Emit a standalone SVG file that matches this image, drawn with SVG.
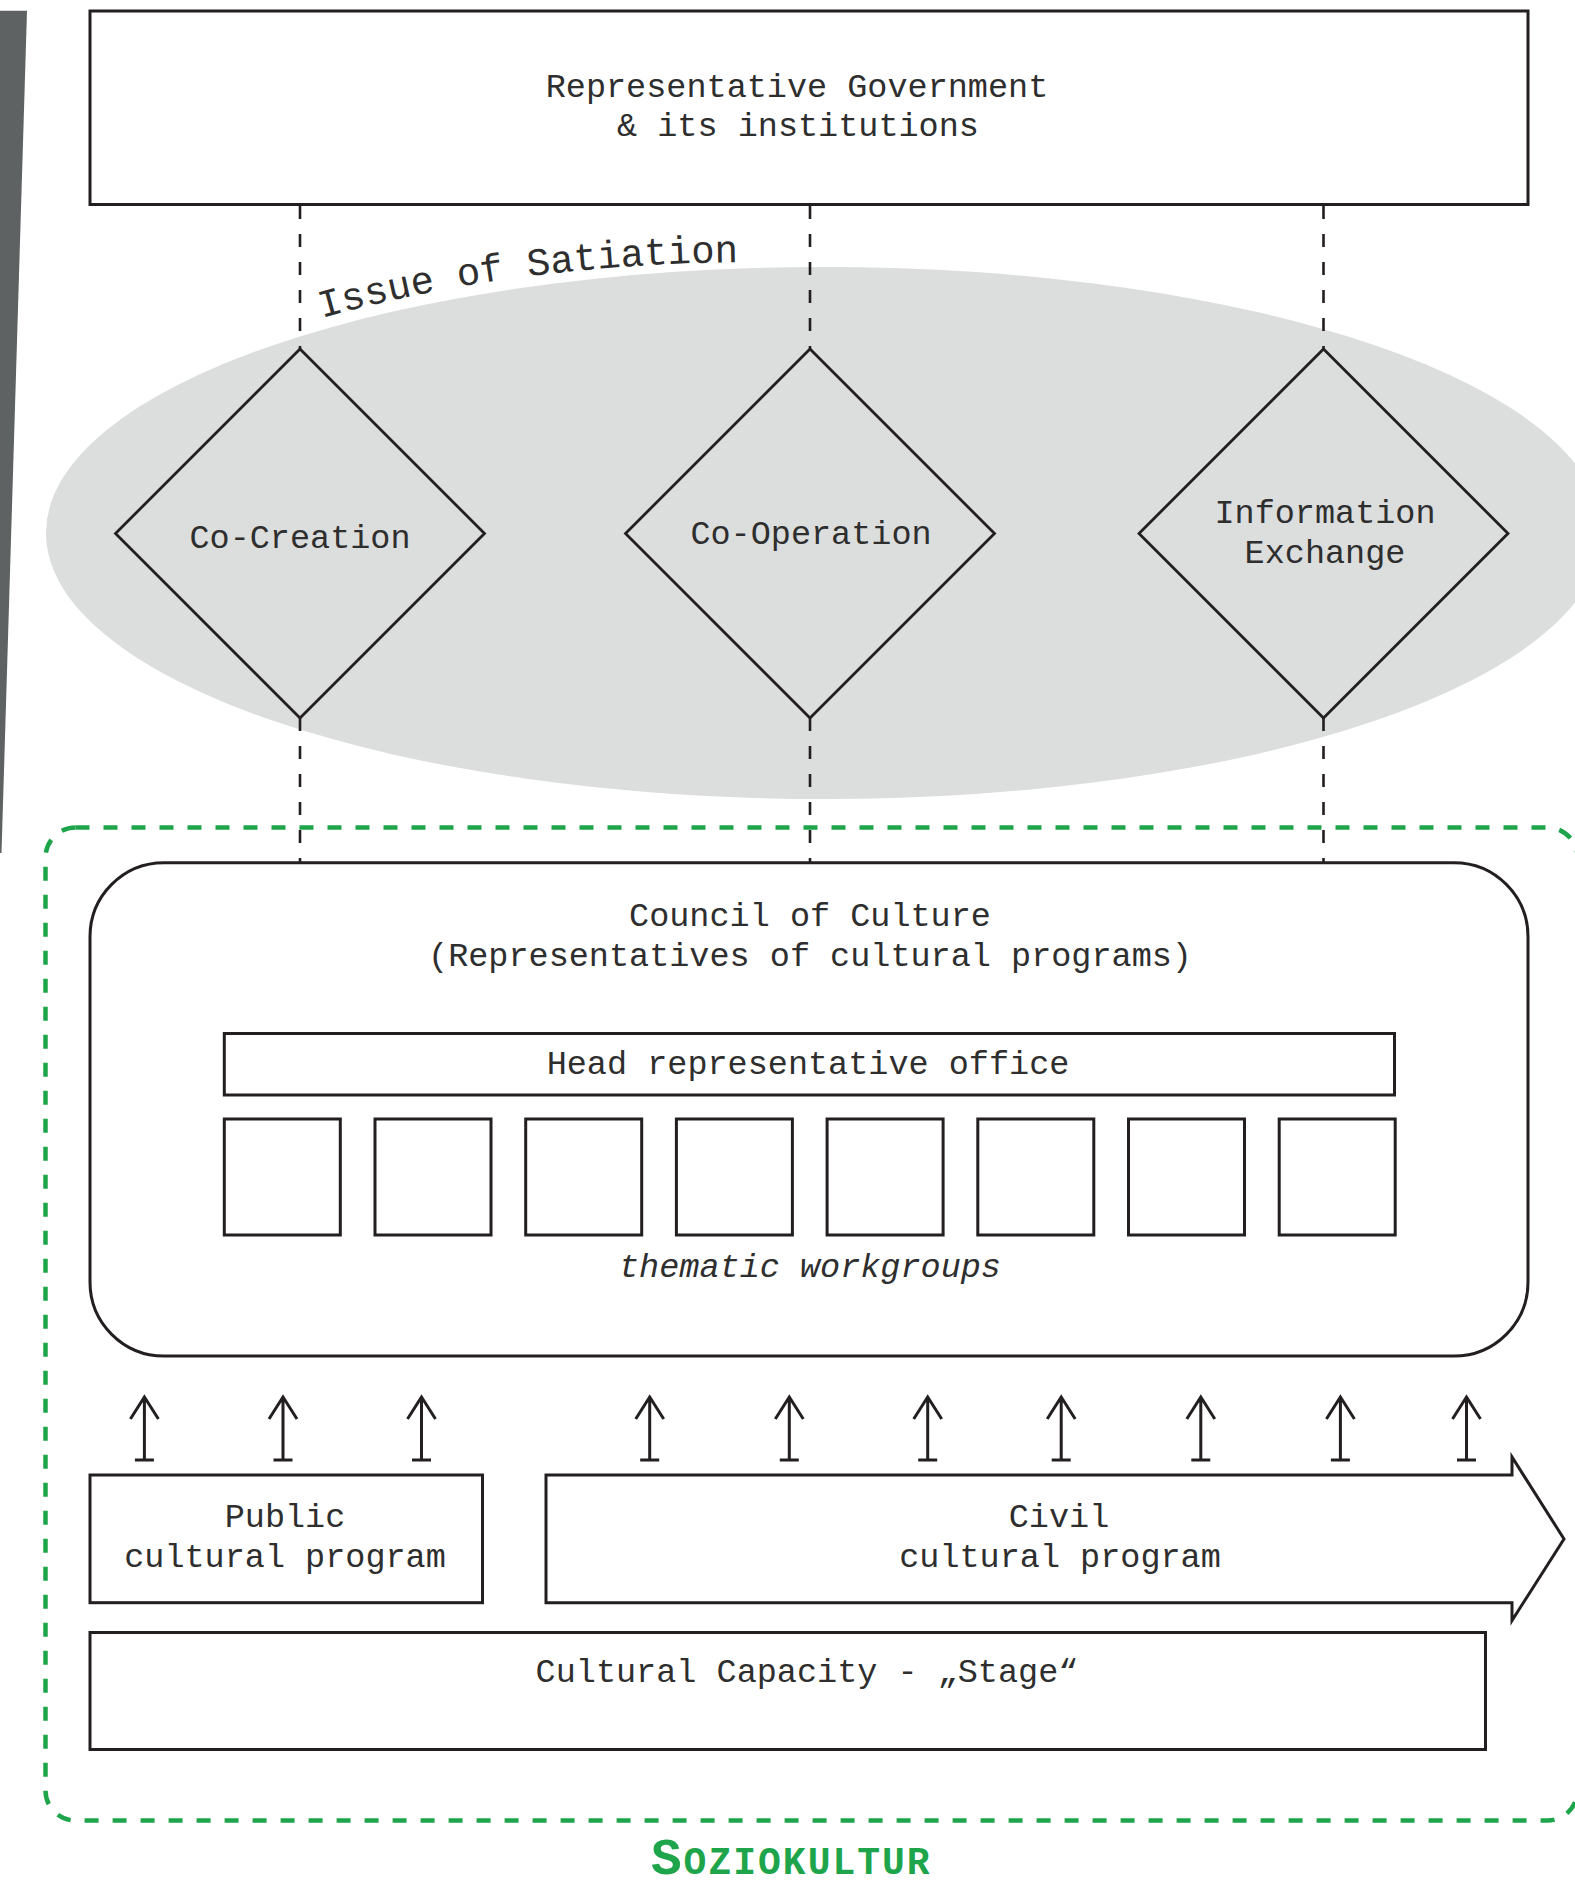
<svg xmlns="http://www.w3.org/2000/svg" width="1575" height="1886" viewBox="0 0 1575 1886">
<style>
.t{font-family:"Liberation Mono","Courier New",monospace;font-size:33.5px;fill:#2e2e2e;text-anchor:middle}
.it{font-style:italic}
.box{fill:#fff;stroke:#231f20;stroke-width:3}
.dia{fill:none;stroke:#231f20;stroke-width:2.8}
.dash{stroke:#231f20;stroke-width:2.6;stroke-dasharray:13 15;fill:none}
.arr{fill:none;stroke:#231f20;stroke-width:3}
.green{fill:none;stroke:#1ea54b;stroke-width:4.5;stroke-dasharray:14 14}
.soz{font-family:"Liberation Mono","Courier New",monospace;font-weight:bold;fill:#1ea54b;letter-spacing:2px}
</style>
<defs>
<path id="satPath" d="M 322 318 Q 520 262 760 262"/>
<path id="uparrow" d="M0,0 V-63 M-14,-41 L0,-63 L14,-41 M-9.5,0 H9.5"/>
</defs>
<rect width="1575" height="1886" fill="#fff"/>
<polygon points="0,10.7 27,10.7 1.5,853 0,853" fill="#5e6262"/>

<g id="satiation-area">
<ellipse cx="824" cy="533" rx="778" ry="266" fill="#dcdddd"/>
<text class="t" style="font-size:39px;text-anchor:start"><textPath href="#satPath">Issue of Satiation</textPath></text>
</g>

<g id="soziokultur">
<rect class="green" x="45.5" y="827.5" width="1532" height="993" rx="30"/>
<text class="soz" x="651" y="1874"><tspan style="font-size:51px">S</tspan><tspan style="font-size:38px">OZIOKULTUR</tspan></text>
</g>

<g id="government">
<rect class="box" x="90" y="11" width="1438" height="193.5"/>
<text class="t" x="797" y="97">Representative Government</text>
<text class="t" x="798" y="136">&amp; its institutions</text>
</g>

<g id="co-creation">
<polygon class="dia" points="300,349 484.5,533.5 300,718 115.5,533.5"/>
<text class="t" x="300" y="548">Co-Creation</text>
</g>
<g id="co-operation">
<polygon class="dia" points="810,349 994.5,533.5 810,718 625.5,533.5"/>
<text class="t" x="811" y="544">Co-Operation</text>
</g>
<g id="information-exchange">
<polygon class="dia" points="1323.5,349 1508,533.5 1323.5,718 1139,533.5"/>
<text class="t" x="1325" y="523">Information</text>
<text class="t" x="1325" y="563">Exchange</text>
</g>

<g id="council">
<rect class="box" x="90" y="862.7" width="1438" height="493.3" rx="74"/>
<text class="t" x="810" y="926">Council of Culture</text>
<text class="t" x="810" y="966">(Representatives of cultural programs)</text>
</g>

<g id="head-office">
<rect class="box" x="224.3" y="1033.5" width="1170.2" height="61.5"/>
<text class="t" x="808" y="1074">Head representative office</text>
</g>

<g id="workgroups">
<rect class="box" x="224.3" y="1119" width="116" height="116"/>
<rect class="box" x="375" y="1119" width="116" height="116"/>
<rect class="box" x="525.7" y="1119" width="116" height="116"/>
<rect class="box" x="676.4" y="1119" width="116" height="116"/>
<rect class="box" x="827.1" y="1119" width="116" height="116"/>
<rect class="box" x="977.8" y="1119" width="116" height="116"/>
<rect class="box" x="1128.5" y="1119" width="116" height="116"/>
<rect class="box" x="1279.2" y="1119" width="116" height="116"/>
<text class="t it" x="810" y="1277">thematic workgroups</text>
</g>

<g id="public-program">
<rect class="box" x="90" y="1475" width="392.5" height="127.7"/>
<text class="t" x="285" y="1527">Public</text>
<text class="t" x="285" y="1567">cultural program</text>
</g>

<g id="civil-program">
<polygon class="box" points="546,1475 1512,1475 1512,1457 1564,1539 1512,1620.5 1512,1602.7 546,1602.7"/>
<text class="t" x="1059" y="1527">Civil</text>
<text class="t" x="1060" y="1567">cultural program</text>
</g>

<g id="cultural-capacity">
<rect class="box" x="90" y="1632.5" width="1395.5" height="117"/>
<text class="t" x="807" y="1682">Cultural Capacity - „Stage“</text>
</g>

<g id="connectors">
<line class="dash" x1="300" y1="206" x2="300" y2="349"/>
<line class="dash" x1="300" y1="718" x2="300" y2="862"/>
<line class="dash" x1="810" y1="206" x2="810" y2="349"/>
<line class="dash" x1="810" y1="718" x2="810" y2="862"/>
<line class="dash" x1="1323.5" y1="206" x2="1323.5" y2="349"/>
<line class="dash" x1="1323.5" y1="718" x2="1323.5" y2="862"/>
<use href="#uparrow" class="arr" x="144.4" y="1460"/>
<use href="#uparrow" class="arr" x="283" y="1460"/>
<use href="#uparrow" class="arr" x="421.5" y="1460"/>
<use href="#uparrow" class="arr" x="649.7" y="1460"/>
<use href="#uparrow" class="arr" x="789.3" y="1460"/>
<use href="#uparrow" class="arr" x="927.7" y="1460"/>
<use href="#uparrow" class="arr" x="1061.2" y="1460"/>
<use href="#uparrow" class="arr" x="1200.8" y="1460"/>
<use href="#uparrow" class="arr" x="1340.4" y="1460"/>
<use href="#uparrow" class="arr" x="1466.5" y="1460"/>
</g>
</svg>
